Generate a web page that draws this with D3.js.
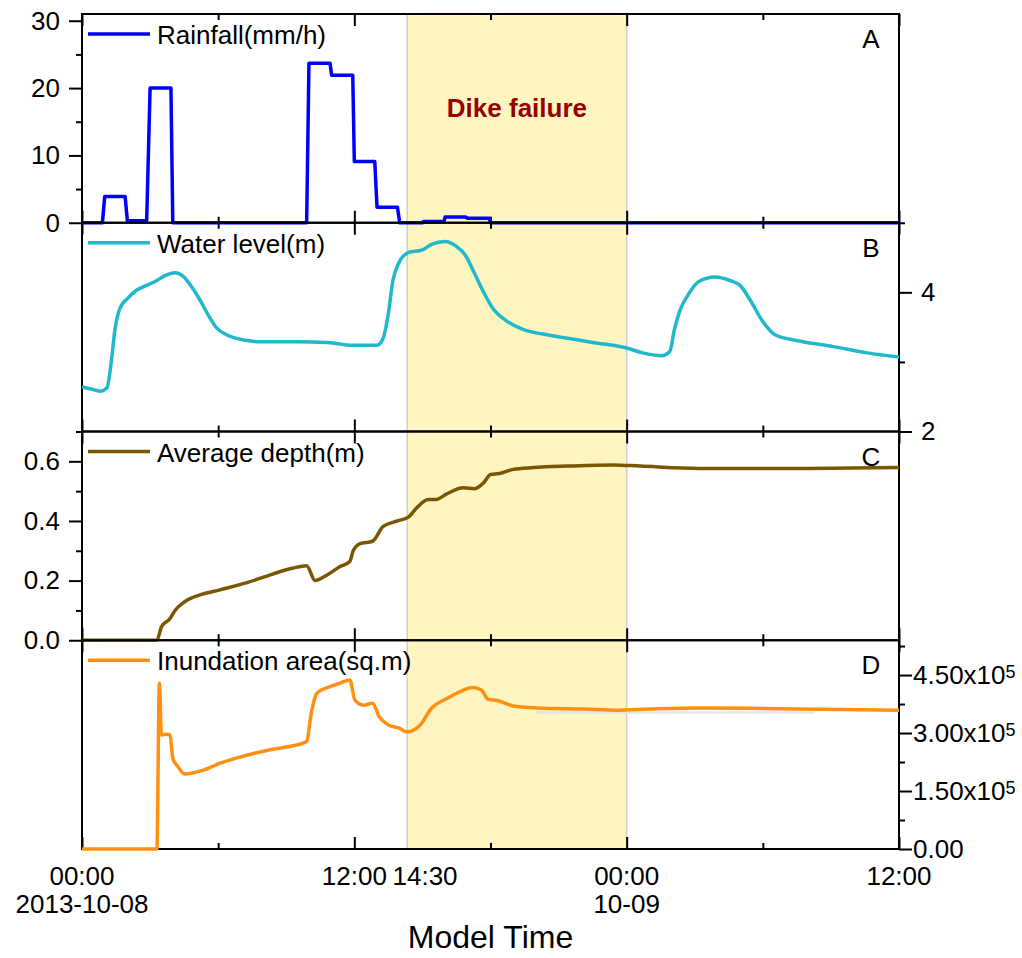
<!DOCTYPE html>
<html>
<head>
<meta charset="utf-8">
<script src="https://cdn.jsdelivr.net/npm/d3@7"></script>
<style>
body { margin: 0; background: #fff; }
svg text { font-family: "Liberation Sans", Arial, sans-serif; fill: #000; }
</style>
</head>
<body>
<div id="output"></div>
<script>
(function () {

"use strict";

// hours since 2013-10-08 00:00
var timeMajor = [0, 12, 24, 36]
var timeMinor = [6, 18, 30]
var timeLabels = [
  { h: 0, text: ["00:00", "2013-10-08"] },
  { h: 12, text: ["12:00"] },
  { h: 14.5, text: ["14:30"] },
  { h: 24, text: ["00:00", "10-09"] },
  { h: 36, text: ["12:00"] }
]
var failureWindow = [14.33, 24]

var rainfall = [
  [0, 0], [0.9, 0], [1.0, 3.9], [1.9, 3.9], [2.0, 0.3], [2.85, 0.3], [3.0, 20], [3.92, 20], [4.0, 0],
  [9.9, 0], [10.0, 23.7], [10.93, 23.7], [11.0, 21.9], [11.93, 21.9], [12.0, 9.1], [12.9, 9.1],
  [13.0, 2.3], [13.9, 2.3], [14.0, 0], [15.0, 0], [15.05, 0.2], [15.95, 0.2], [16.0, 0.85],
  [16.9, 0.85], [17.0, 0.65], [17.95, 0.65], [18.0, 0], [36, 0]
]

var waterLevel = [
  [0, 2.64], [0.4, 2.61], [0.8, 2.58], [1.1, 2.63], [1.3, 3.03], [1.45, 3.46], [1.67, 3.77], [2.0, 3.91],
  [2.4, 4.03], [2.85, 4.10], [3.3, 4.17], [3.66, 4.24], [4.1, 4.28], [4.46, 4.23], [4.83, 4.08], [5.2, 3.89],
  [5.57, 3.67], [5.93, 3.49], [6.37, 3.39], [7.2, 3.31], [7.84, 3.29], [9.5, 3.29], [10.8, 3.28], [11.3, 3.26],
  [11.8, 3.24], [13.0, 3.24], [13.27, 3.34], [13.5, 3.70], [13.7, 4.17], [13.94, 4.41], [14.37, 4.57],
  [15.0, 4.61], [15.4, 4.69], [16.0, 4.73], [16.5, 4.66], [16.9, 4.53], [17.3, 4.27], [17.7, 4.00],
  [18.1, 3.77], [18.7, 3.59], [19.4, 3.47], [20.3, 3.40], [21.4, 3.34], [22.5, 3.28], [24.0, 3.20],
  [24.7, 3.13], [25.55, 3.09], [25.9, 3.15], [26.1, 3.46], [26.35, 3.74], [26.7, 3.96], [27.15, 4.15],
  [27.9, 4.22], [28.55, 4.17], [29.0, 4.10], [29.44, 3.89], [30.0, 3.58], [30.54, 3.39], [31.6, 3.30],
  [33.1, 3.22], [34.6, 3.13], [36, 3.07]
]

var avgDepth = [
  [0, 0], [3.3, 0], [3.5, 0.045], [3.88, 0.073], [4.1, 0.10], [4.54, 0.13], [5.2, 0.152], [6.08, 0.169],
  [7.27, 0.193], [8.4, 0.222], [9.3, 0.242], [9.9, 0.25], [10.27, 0.20], [10.8, 0.219], [11.37, 0.247],
  [11.8, 0.264], [11.95, 0.30], [12.25, 0.324], [12.8, 0.332], [13.27, 0.382], [13.9, 0.40], [14.4, 0.414],
  [14.75, 0.444], [15.26, 0.472], [15.6, 0.472], [16.1, 0.492], [16.8, 0.511], [17.3, 0.508], [17.7, 0.528],
  [18.0, 0.556], [18.4, 0.559], [19.0, 0.573], [19.9, 0.579], [21.4, 0.584], [23.4, 0.588], [24.6, 0.584],
  [27.2, 0.576], [31.6, 0.576], [36, 0.579]
]

var inundation = [
  [0, 0], [3.3, 0], [3.41, 4.29e5], [3.5, 2.95e5], [3.7, 2.97e5], [3.88, 2.95e5], [4.0, 2.35e5], [4.23, 2.13e5],
  [4.54, 1.94e5], [4.9, 1.97e5], [5.35, 2.04e5], [6.08, 2.22e5], [7.1, 2.40e5], [8.4, 2.58e5], [9.3, 2.67e5],
  [9.9, 2.78e5], [10.1, 3.51e5], [10.35, 4.03e5], [10.93, 4.20e5], [11.37, 4.29e5], [11.8, 4.37e5],
  [12.03, 3.85e5], [12.4, 3.72e5], [12.8, 3.77e5], [13.1, 3.42e5], [13.5, 3.21e5], [14.0, 3.12e5],
  [14.3, 3.03e5], [14.9, 3.21e5], [15.4, 3.64e5], [16.1, 3.90e5], [16.66, 4.07e5], [17.2, 4.18e5],
  [17.6, 4.11e5], [17.9, 3.87e5], [18.3, 3.84e5], [19.0, 3.70e5], [20.05, 3.65e5], [22.1, 3.62e5],
  [23.6, 3.59e5], [25.0, 3.62e5], [27.2, 3.65e5], [29.4, 3.64e5], [31.6, 3.62e5], [36, 3.59e5]
]
// faint grey trace under the inundation curve
var inundationGhost = [[20.0, 3.53e5], [32.3, 3.53e5]]

var width = 1022
  , height = 958
  , left = 82
  , right = 899
  , top = 14
  , panelH = 208.75

var svg = d3.select("#output").append("svg").attr("width", width).attr("height", height)
var x = d3.scaleLinear().domain([0, 36]).range([left, right])

var panels = [
  { key: "A", name: "Rainfall(mm/h)", data: rainfall, color: "#0000ff", domain: [0, 31], side: "left",
    major: [0, 10, 20, 30], minor: [5, 15, 25], fmt: d3.format("d"), curve: d3.curveLinear },
  { key: "B", name: "Water level(m)", data: waterLevel, color: "#21b8cb", domain: [2, 5], side: "right",
    major: [2, 4], minor: [3, 5], fmt: d3.format("d"), curve: d3.curveMonotoneX },
  { key: "C", name: "Average depth(m)", data: avgDepth, color: "#7a5600", domain: [0, 0.7], side: "left",
    major: [0, 0.2, 0.4, 0.6], minor: [0.1, 0.3, 0.5, 0.7], fmt: d3.format(".1f"), curve: d3.curveMonotoneX },
  { key: "D", name: "Inundation area(sq.m)", data: inundation, color: "#ff9012", domain: [0, 5.4e5], side: "right",
    major: [0, 1.5e5, 3e5, 4.5e5], minor: [0.75e5, 2.25e5, 3.75e5, 5.25e5], fmt: null, curve: d3.curveMonotoneX,
    ghost: inundationGhost }
]

// dike failure band behind everything
var bandG = svg.append("g")
bandG.append("rect")
  .attr("x", x(failureWindow[0])).attr("width", x(failureWindow[1]) - x(failureWindow[0]))
  .attr("y", top).attr("height", panelH * 4)
  .style("fill", "#fff5c0")
bandG.selectAll("line").data(failureWindow).enter().append("line")
  .attr("x1", function (d) { return x(d) }).attr("x2", function (d) { return x(d) })
  .attr("y1", top).attr("y2", top + panelH * 4)
  .style("stroke", "#cfcfcf").style("stroke-width", 1.5)

panels.forEach(function (p, i) {
  var g = svg.append("g").attr("transform", "translate(0," + (top + i * panelH) + ")")
    , y = d3.scaleLinear().domain(p.domain).range([panelH, 0])
    , line = d3.line().x(function (d) { return x(d[0]) }).y(function (d) { return y(d[1]) }).curve(p.curve)
    , axisX = p.side === "left" ? left : right
    , mk = p.side === "left" ? d3.axisLeft : d3.axisRight

  // inside time ticks, top and bottom
  g.append("g").attr("class", "tx").call(d3.axisBottom(x).tickValues(timeMajor).tickSize(12).tickFormat(""))
  g.append("g").attr("class", "tx").call(d3.axisBottom(x).tickValues(timeMinor).tickSize(6).tickFormat(""))
  g.append("g").attr("class", "tx").attr("transform", "translate(0," + panelH + ")")
    .call(d3.axisTop(x).tickValues(timeMajor).tickSize(12).tickFormat(""))
  g.append("g").attr("class", "tx").attr("transform", "translate(0," + panelH + ")")
    .call(d3.axisTop(x).tickValues(timeMinor).tickSize(6).tickFormat(""))

  // value axis
  var major = g.append("g").attr("transform", "translate(" + axisX + ",0)")
    .call(mk(y).tickValues(p.major).tickSize(13).tickPadding(p.key === "D" ? 1 : 9).tickFormat(p.fmt || function () { return "" }))
  g.append("g").attr("class", "minor").attr("transform", "translate(" + axisX + ",0)")
    .call(mk(y).tickValues(p.minor).tickSize(6).tickFormat(""))
  major.selectAll("text").style("font-size", "26px")

  if (p.key === "D") {
    major.selectAll(".tick text").each(function (d) {
      var t = d3.select(this).text(null)
      if (d === 0) { t.text("0.00"); return }
      t.append("tspan").text((d / 1e5).toFixed(2) + "x10")
      t.append("tspan").attr("dy", "-6").style("font-size", "18px").text("5")
    })
  }

  g.selectAll(".domain").remove()
  g.selectAll(".tick line").style("stroke", "#000").style("stroke-width", 2)

  // frame
  g.append("rect").attr("x", left).attr("y", 0).attr("width", right - left).attr("height", panelH)
    .style("fill", "none").style("stroke", "#000").style("stroke-width", 2)

  if (p.ghost) {
    g.append("path").datum(p.ghost).attr("d", line)
      .style("fill", "none").style("stroke", "#e4e4e4").style("stroke-width", 2.5)
  }

  g.append("path").datum(p.data).attr("d", line)
    .style("fill", "none").style("stroke", p.color).style("stroke-width", 3.5)
    .style("stroke-linejoin", "round")

  // legend
  g.append("line").attr("x1", 88).attr("x2", 150).attr("y1", 20).attr("y2", 20)
    .style("stroke", p.color).style("stroke-width", 3.5)
  g.append("text").attr("x", 157).attr("y", 30).style("font-size", "26px").text(p.name)

  // panel letter
  g.append("text").attr("x", 871).attr("y", 34).attr("text-anchor", "middle").style("font-size", "26px").text(p.key)
})

svg.append("text")
  .attr("x", (x(failureWindow[0]) + x(failureWindow[1])) / 2).attr("y", 117)
  .attr("text-anchor", "middle")
  .style("font-size", "26px").style("font-weight", "bold").style("fill", "#960000")
  .text("Dike failure")

// time labels under the bottom panel
var labels = svg.selectAll("text.time").data(timeLabels).enter().append("text")
  .attr("class", "time")
  .attr("text-anchor", "middle")
  .attr("x", function (d) { return x(d.h) + (d.h === 14.5 ? 14 : 0) })
  .attr("y", 885)
  .style("font-size", "26px")
labels.selectAll("tspan").data(function (d) { return d.text }).enter().append("tspan")
  .attr("x", function () { return d3.select(this.parentNode).attr("x") })
  .attr("dy", function (d, i) { return i ? 28 : 0 })
  .text(function (d) { return d })

svg.append("text").attr("x", x(18)).attr("y", 948).attr("text-anchor", "middle")
  .style("font-size", "32px").text("Model Time")

}())
</script>
</body>
</html>
